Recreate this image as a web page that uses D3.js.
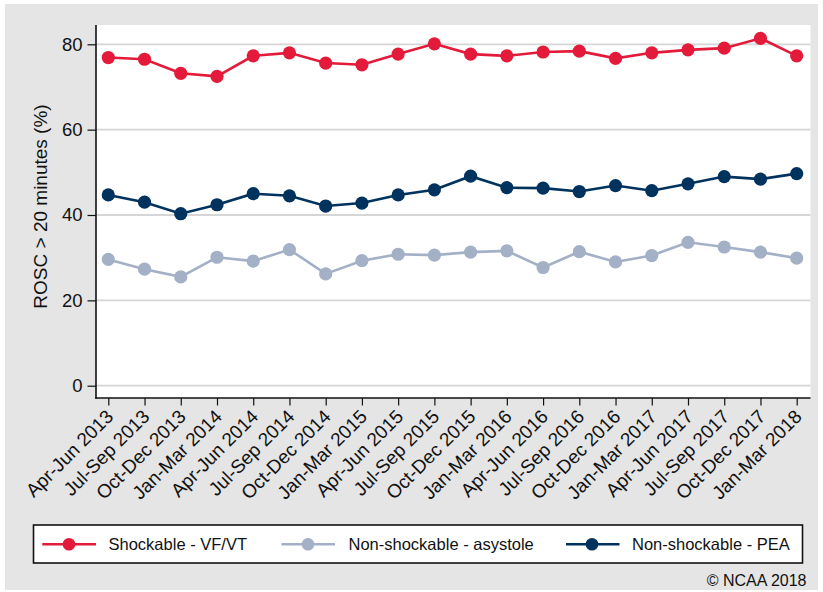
<!DOCTYPE html>
<html>
<head>
<meta charset="utf-8">
<script src="https://cdn.jsdelivr.net/npm/d3@7"></script>
<style>
  html, body { margin: 0; padding: 0; background: #ffffff; }
  svg { display: block; font-family: "Liberation Sans", Arial, Helvetica, sans-serif; }
</style>
</head>
<body>
<svg id="chart" width="823" height="592"></svg>
<script>
// ---- data ----
const categories = [
  "Apr-Jun 2013", "Jul-Sep 2013", "Oct-Dec 2013", "Jan-Mar 2014",
  "Apr-Jun 2014", "Jul-Sep 2014", "Oct-Dec 2014", "Jan-Mar 2015",
  "Apr-Jun 2015", "Jul-Sep 2015", "Oct-Dec 2015", "Jan-Mar 2016",
  "Apr-Jun 2016", "Jul-Sep 2016", "Oct-Dec 2016", "Jan-Mar 2017",
  "Apr-Jun 2017", "Jul-Sep 2017", "Oct-Dec 2017", "Jan-Mar 2018"
];
const shockable = [76.9, 76.5, 73.2, 72.5, 77.3, 78.0, 75.6, 75.2, 77.7, 80.1,
                   77.7, 77.3, 78.2, 78.4, 76.7, 78.0, 78.7, 79.1, 81.4, 77.3];
const asystole  = [29.6, 27.3, 25.5, 30.1, 29.2, 31.9, 26.2, 29.3, 30.8, 30.6,
                   31.3, 31.6, 27.7, 31.4, 29.0, 30.5, 33.6, 32.5, 31.3, 29.9];
const pea       = [44.7, 43.0, 40.3, 42.4, 45.0, 44.5, 42.1, 42.8, 44.7, 45.9,
                   49.1, 46.4, 46.3, 45.5, 46.9, 45.7, 47.3, 49.0, 48.4, 49.7];
const seriesNames = ["Shockable - VF/VT", "Non-shockable - asystole", "Non-shockable - PEA"];
const yTicks = [0, 20, 40, 60, 80];
const yTitle = "ROSC > 20 minutes (%)";
const credit = "\u00A9 NCAA 2018";

// ---- styles ----
const colors = ["#e31a3a", "#a3b0c6", "#00325e"];
const seriesData = [shockable, asystole, pea];
const svg = d3.select("#chart");

// background
svg.append("rect").attr("x", 5).attr("y", 4).attr("width", 813).attr("height", 586)
  .attr("fill", "#e5e5e5");

const plot = { left: 96, right: 810.5, top: 25, bottom: 398 };
svg.append("rect").attr("x", plot.left).attr("y", plot.top)
  .attr("width", plot.right - plot.left).attr("height", plot.bottom - plot.top)
  .attr("fill", "#ffffff");

const x = d3.scalePoint().domain(categories).range([108.3, 796.7]);
const y = d3.scaleLinear().domain([0, 80]).range([385.7, 44.3]);

// gridlines
svg.append("g").selectAll("line").data(yTicks).join("line")
  .attr("x1", plot.left).attr("x2", plot.right)
  .attr("y1", d => y(d)).attr("y2", d => y(d))
  .attr("stroke", "#d6d6d6").attr("stroke-width", 1.8);

// y axis
const yAxis = svg.append("g").attr("transform", `translate(${plot.left},0)`)
  .call(d3.axisLeft(y).tickValues(yTicks).tickSize(8.5).tickPadding(5).tickFormat(d3.format("d")));
yAxis.select(".domain").remove();
yAxis.selectAll(".tick line").attr("stroke", "#111").attr("stroke-width", 1.2);
yAxis.selectAll(".tick text").attr("font-size", "18.5px").attr("fill", "#111")
  .attr("font-family", "'Liberation Sans', Arial, sans-serif");

// x axis
const xAxis = svg.append("g").attr("transform", `translate(0,${plot.bottom})`)
  .call(d3.axisBottom(x).tickSize(7.5).tickPadding(0));
xAxis.select(".domain").remove();
xAxis.selectAll(".tick line").attr("stroke", "#111").attr("stroke-width", 1.2);
xAxis.selectAll(".tick text")
  .attr("font-size", "19px").attr("fill", "#111")
  .attr("font-family", "'Liberation Sans', Arial, sans-serif")
  .attr("text-anchor", "end")
  .attr("y", 0).attr("dy", "0.35em")
  .attr("transform", "translate(1,15) rotate(-45)");

// axis lines
svg.append("line").attr("x1", plot.left).attr("x2", plot.left)
  .attr("y1", plot.top).attr("y2", plot.bottom + 0.8)
  .attr("stroke", "#111").attr("stroke-width", 1.6);
svg.append("line").attr("x1", plot.left - 0.8).attr("x2", plot.right)
  .attr("y1", plot.bottom).attr("y2", plot.bottom)
  .attr("stroke", "#111").attr("stroke-width", 1.6);

// y title
svg.append("text")
  .attr("transform", `translate(47,206.5) rotate(-90)`)
  .attr("text-anchor", "middle")
  .attr("font-size", "19px").attr("fill", "#111")
  .text(yTitle);

// series
const line = d3.line().x((d, i) => x(categories[i])).y(d => y(d));
[1, 2, 0].forEach(k => {
  const g = svg.append("g");
  g.append("path").datum(seriesData[k]).attr("d", line)
    .attr("fill", "none").attr("stroke", colors[k]).attr("stroke-width", 2.6);
  g.selectAll("circle").data(seriesData[k]).join("circle")
    .attr("cx", (d, i) => x(categories[i])).attr("cy", d => y(d))
    .attr("r", 6.6).attr("fill", colors[k]);
});

// legend
const legend = { x: 33.5, y: 525, w: 769, h: 38 };
svg.append("rect").attr("x", legend.x).attr("y", legend.y)
  .attr("width", legend.w).attr("height", legend.h)
  .attr("fill", "#ffffff").attr("stroke", "#111").attr("stroke-width", 1.6);
const legendPos = [
  { lx1: 42.3, lx2: 96, mx: 69, tx: 108.5 },
  { lx1: 281.5, lx2: 335, mx: 308, tx: 348.5 },
  { lx1: 566, lx2: 619.5, mx: 592, tx: 632 }
];
const ly = 544.3;
seriesNames.forEach((name, k) => {
  const p = legendPos[k];
  svg.append("line").attr("x1", p.lx1).attr("x2", p.lx2).attr("y1", ly).attr("y2", ly)
    .attr("stroke", colors[k]).attr("stroke-width", 2.6);
  svg.append("circle").attr("cx", p.mx).attr("cy", ly).attr("r", 6.3).attr("fill", colors[k]);
  svg.append("text").attr("x", p.tx).attr("y", ly).attr("dy", "0.35em")
    .attr("font-size", "16.5px").attr("fill", "#111").text(name);
});

// credit
svg.append("text").attr("x", 806.5).attr("y", 586).attr("text-anchor", "end")
  .attr("font-size", "16px").attr("fill", "#111").text(credit);
</script>
</body>
</html>
